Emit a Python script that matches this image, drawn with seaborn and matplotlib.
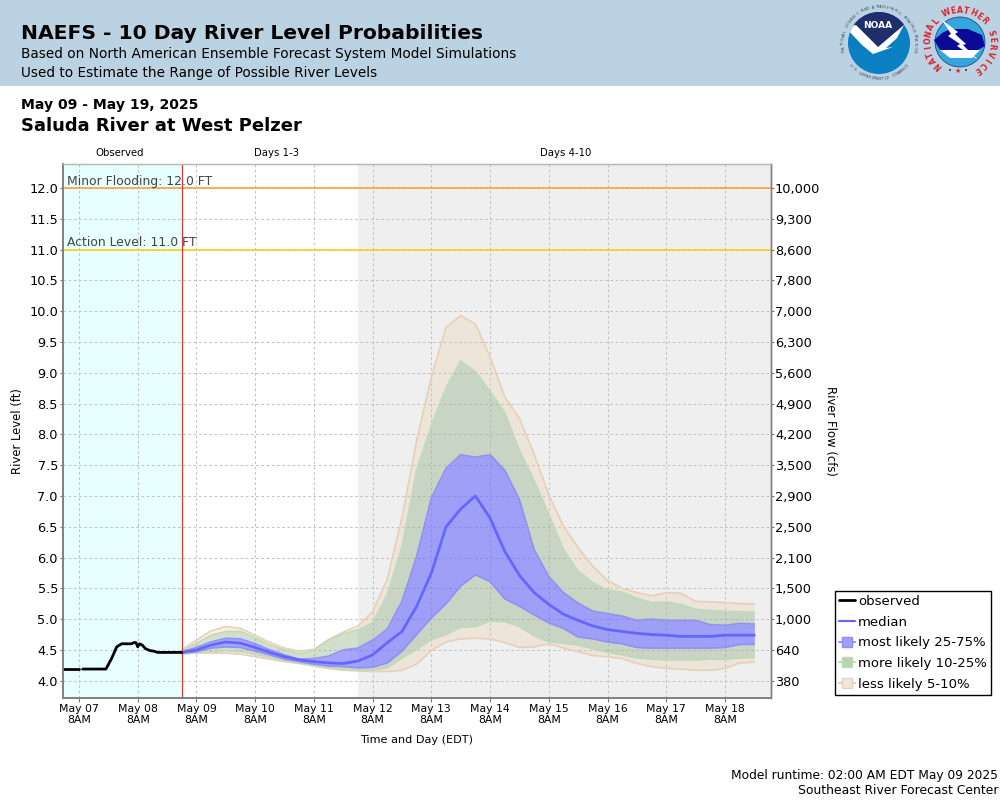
import matplotlib
matplotlib.use("Agg")
import matplotlib.pyplot as plt
from matplotlib.lines import Line2D
from matplotlib.patches import Circle, Rectangle, Polygon
import numpy as np
import pandas as pd
import seaborn as sns

# hours after May 07 8AM, split where the gauge record has a gap
obs_hours_a = [-6, -3, 0]
obs_level_a = [4.19, 4.19, 4.19]
obs_hours_b = [1.5, 5, 8, 11, 13.3, 15.4, 17.4, 21.5, 22.4, 23.3, 24, 24.7, 25.8, 27.2, 29, 30.6, 32.1, 36, 42]
obs_level_b = [4.19, 4.19, 4.19, 4.19, 4.36, 4.55, 4.60, 4.60, 4.62, 4.62, 4.55, 4.60, 4.58, 4.52, 4.49, 4.48, 4.46, 4.46, 4.46]

median = [4.46, 4.50, 4.58, 4.63, 4.61, 4.54, 4.46, 4.39, 4.34, 4.31, 4.29, 4.28, 4.32, 4.42, 4.62, 4.80, 5.21, 5.75, 6.50, 6.79,
          7.00, 6.64, 6.10, 5.71, 5.43, 5.24, 5.08, 4.98, 4.89, 4.83, 4.80, 4.77, 4.75, 4.74, 4.72, 4.72, 4.72, 4.74, 4.74, 4.74]
p75 = [4.47, 4.54, 4.63, 4.69, 4.68, 4.60, 4.50, 4.42, 4.35, 4.36, 4.40, 4.50, 4.53, 4.66, 4.84, 5.29, 6.02, 6.97, 7.45, 7.67,
       7.63, 7.67, 7.42, 6.94, 6.13, 5.69, 5.43, 5.26, 5.13, 5.09, 5.05, 4.98, 5.00, 4.98, 4.98, 4.98, 4.91, 4.90, 4.93, 4.92]
p25 = [4.45, 4.47, 4.53, 4.55, 4.54, 4.48, 4.42, 4.35, 4.31, 4.27, 4.24, 4.23, 4.21, 4.22, 4.29, 4.48, 4.75, 5.02, 5.25, 5.54,
       5.72, 5.61, 5.33, 5.21, 5.07, 4.94, 4.85, 4.71, 4.68, 4.63, 4.60, 4.54, 4.53, 4.53, 4.53, 4.53, 4.53, 4.54, 4.59, 4.59]
p90 = [4.48, 4.61, 4.74, 4.80, 4.80, 4.70, 4.58, 4.50, 4.44, 4.49, 4.66, 4.76, 4.83, 4.94, 5.40, 6.18, 7.42, 8.15, 8.76, 9.19,
       9.02, 8.70, 8.35, 7.74, 7.25, 6.70, 6.13, 5.78, 5.59, 5.47, 5.44, 5.34, 5.27, 5.28, 5.24, 5.16, 5.14, 5.13, 5.12, 5.11]
p10 = [4.44, 4.46, 4.47, 4.49, 4.47, 4.43, 4.38, 4.33, 4.29, 4.25, 4.21, 4.19, 4.17, 4.17, 4.21, 4.37, 4.51, 4.67, 4.75, 4.87,
       4.88, 4.97, 4.96, 4.88, 4.73, 4.63, 4.61, 4.58, 4.52, 4.46, 4.42, 4.37, 4.35, 4.34, 4.34, 4.34, 4.35, 4.35, 4.37, 4.38]
p95 = [4.50, 4.66, 4.81, 4.88, 4.85, 4.74, 4.62, 4.53, 4.48, 4.51, 4.67, 4.79, 4.89, 5.12, 5.65, 6.65, 7.90, 8.93, 9.74, 9.93,
       9.79, 9.26, 8.61, 8.26, 7.68, 7.02, 6.51, 6.16, 5.86, 5.63, 5.50, 5.43, 5.38, 5.43, 5.42, 5.29, 5.28, 5.27, 5.25, 5.25]
p05 = [4.43, 4.45, 4.45, 4.45, 4.43, 4.39, 4.35, 4.31, 4.28, 4.24, 4.20, 4.17, 4.16, 4.15, 4.15, 4.17, 4.27, 4.49, 4.63, 4.68,
       4.69, 4.68, 4.62, 4.54, 4.55, 4.60, 4.53, 4.47, 4.41, 4.39, 4.36, 4.28, 4.23, 4.20, 4.19, 4.17, 4.17, 4.20, 4.29, 4.30]

stage_ticks = [4.0, 4.5, 5.0, 5.5, 6.0, 6.5, 7.0, 7.5, 8.0, 8.5, 9.0, 9.5, 10.0, 10.5, 11.0, 11.5, 12.0]
flow_labels = ["380", "640", "1,000", "1,500", "2,100", "2,500", "2,900", "3,500", "4,200", "4,900", "5,600",
               "6,300", "7,000", "7,800", "8,600", "9,300", "10,000"]
day_labels = ["May 07", "May 08", "May 09", "May 10", "May 11", "May 12", "May 13", "May 14", "May 15", "May 16", "May 17", "May 18"]

C_TAN = "#e8c49c"
C_GREEN = "#94b38a"
C_BLUE = "#6a6aff"
C_MEDIAN = "#6666ff"
E_TAN = "#e8d0b8"
E_GREEN = "#c2d9b8"
E_BLUE = "#9090f5"

sns.set_theme(style="white")
plt.rcParams['font.family'] = ['DejaVu Sans']
plt.rcParams['text.color'] = 'black'

t0 = pd.Timestamp("2025-05-07 08:00")
fc_times = pd.date_range("2025-05-09 02:00", periods=len(median), freq="6h")
obs = pd.DataFrame({
    "time": [t0 + pd.Timedelta(hours=h) for h in obs_hours_a + obs_hours_b],
    "level": obs_level_a + obs_level_b,
    "seg": [0] * len(obs_hours_a) + [1] * len(obs_hours_b),
})
fc = pd.DataFrame({"time": fc_times, "median": median})

fig = plt.figure(figsize=(10, 8), dpi=100)
W, H = 1000.0, 800.0


def ftext(x, y, s, **kw):
    kw.setdefault("va", "center")
    return fig.text(x / W, 1 - y / H, s, **kw)


def ring_text(art, cx, cy, r, s, start, span, **kw):
    # letters set along a circle, angle in degrees, running clockwise for positive span
    for i, ch in enumerate(s):
        a = np.radians(start - i * span / (len(s) - 1))
        rot = np.degrees(a) - 90 if span > 0 else np.degrees(a) + 90
        art.text(cx + r * np.cos(a), cy - r * np.sin(a), ch, rotation=rot, ha="center", va="center", **kw)


def draw_logos():
    # header art, drawn in pixel coordinates
    art = fig.add_axes([0, 1 - 86 / H, 1, 86 / H], zorder=3)
    art.set_xlim(0, 1000)
    art.set_ylim(86, 0)
    art.axis("off")

    base = Circle((879, 43), 31, fc="#0a7fc1", ec="none")
    art.add_patch(base)
    dark = Polygon([(845, 5), (911, 5), (903, 26), (878, 52), (855, 26)], fc="#1f2f6b", ec="none")
    art.add_patch(dark)
    dark.set_clip_path(base)
    bird = Polygon([(846, 28), (856, 25), (878, 47), (904, 25), (897, 38), (886, 48), (893, 47), (873, 54), (862, 45)],
                   fc="white", ec="none")
    art.add_patch(bird)
    bird.set_clip_path(base)
    art.text(878, 25, "NOAA", color="white", fontsize=6.5, fontweight="bold", ha="center", va="center")
    ring_text(art, 879, 43, 36, "NATIONAL OCEANIC AND ATMOSPHERIC ADMINISTRATION", 192, 204, fontsize=2.9, color="#444a60")
    ring_text(art, 879, 43, 36, "U.S. DEPARTMENT OF COMMERCE", 218, -104, fontsize=2.9, color="#444a60")

    inner = Circle((960, 42), 25, fc="#35a6dc", ec="#1f2f6b", lw=0.5)
    art.add_patch(inner)
    cloud = Polygon([(934, 40), (942, 33), (950, 29), (968, 29), (982, 35), (985, 46), (978, 50), (940, 50)], fc="#0a0a96", ec="none")
    art.add_patch(cloud)
    under = Polygon([(940, 50), (980, 50), (972, 58), (950, 58)], fc="white", ec="none")
    art.add_patch(under)
    bolt = Polygon([(942, 20), (958, 32), (955, 34), (966, 44), (963, 45), (978, 60), (957, 46), (960, 44), (948, 36), (951, 34)],
                   fc="white", ec="none")
    art.add_patch(bolt)
    ring_text(art, 960, 42, 32, "NATIONAL WEATHER SERVICE", 227, 285, fontsize=5.6, fontweight="bold", color="#e0202a")
    art.text(950, 71, "\u2022", fontsize=5, color="#1f2f6b", ha="center", va="center")
    art.text(958, 71, "\u2605", fontsize=5, color="#e0202a", ha="center", va="center")
    art.text(966, 71, "\u2022", fontsize=5, color="#1f2f6b", ha="center", va="center")


def draw_bands(ax):
    bands = [(p95, p90, C_TAN, 0.25), (p10, p05, C_TAN, 0.25),
             (p90, p75, C_GREEN, 0.42), (p25, p10, C_GREEN, 0.42),
             (p75, p25, C_BLUE, 0.6)]
    for hi, lo, c, a in bands:
        ax.fill_between(fc_times, lo, hi, color=c, alpha=a, lw=0, zorder=3)
    for series, c in [(p95, E_TAN), (p05, E_TAN), (p90, E_GREEN), (p10, E_GREEN), (p75, E_BLUE), (p25, E_BLUE)]:
        ax.plot(fc_times, series, color=c, lw=1.2, zorder=4)


fig.patches.append(Rectangle((0, 1 - 86 / H), 1, 86 / H, transform=fig.transFigure, fc="#bbd2e3", ec="none"))

ftext(21, 33.5, "NAEFS - 10 Day River Level Probabilities", fontsize=14.6, fontweight="bold")
ftext(21, 54, "Based on North American Ensemble Forecast System Model Simulations", fontsize=9.83)
ftext(21, 73, "Used to Estimate the Range of Possible River Levels", fontsize=9.83)
ftext(21, 105.5, "May 09 - May 19, 2025", fontsize=10.05, fontweight="bold")
ftext(21, 126, "Saluda River at West Pelzer", fontsize=13, fontweight="bold")
ftext(120, 153, "Observed", fontsize=7.3, ha="center")
ftext(276, 153, "Days 1-3", fontsize=7.3, ha="center")
ftext(566, 153, "Days 4-10", fontsize=7.3, ha="center")

ax = fig.add_axes([63 / W, 1 - 698 / H, (771 - 63) / W, (698 - 164) / H])
xmin, xmax = t0 - pd.Timedelta(hours=6.54), t0 + pd.Timedelta(hours=282.8)
obs_end = fc_times[0]
ax.set_xlim(xmin, xmax)
ax.set_ylim(3.72, 12.39)

ax.axvspan(xmin, obs_end, color="#e8ffff", lw=0, zorder=0)
ax.axvspan(pd.Timestamp("2025-05-12 02:00"), xmax, color="#efefef", lw=0, zorder=0)
ax.grid(True, color="#c2c2c2", ls=(0, (2.5, 2.5)), lw=0.75, zorder=1)
ax.set_axisbelow(True)

ax.axhline(12.0, color="#ff9a30", lw=1.1, zorder=2)
ax.axhline(11.0, color="#ffcc00", lw=1.1, zorder=2)
label_x = t0 - pd.Timedelta(hours=4.9)
ax.text(label_x, 12.11, "Minor Flooding: 12.0 FT", fontsize=8.9, color="#444444", va="center", zorder=6)
ax.text(label_x, 11.11, "Action Level: 11.0 FT", fontsize=8.9, color="#444444", va="center", zorder=6)
ax.axvline(obs_end, color="#d83a3a", lw=0.9, zorder=5)

draw_bands(ax)
sns.lineplot(data=fc, x="time", y="median", color=C_MEDIAN, lw=2.0, ax=ax, zorder=5, estimator=None)
sns.lineplot(data=obs, x="time", y="level", units="seg", estimator=None, color="black", lw=2.0, ax=ax, zorder=6)

ax.set_xlabel("")
ax.set_ylabel("")
ax.set_yticks(stage_ticks)
ax.set_yticklabels([f"{v:.1f}" for v in stage_ticks], fontsize=9.3, color="black")
ax.set_xticks([t0 + pd.Timedelta(days=i) for i in range(len(day_labels))])
ax.set_xticklabels([f"{d}\n8AM" for d in day_labels], fontsize=7.8, color="black", linespacing=1.15)
ax.tick_params(axis="x", length=3, width=0.8, color="#777777", bottom=True, pad=1.2)
ax.tick_params(axis="y", length=2.2, width=0.8, color="#777777", left=True, pad=1.4)

ax2 = ax.twinx()
ax2.set_ylim(ax.get_ylim())
ax2.set_yticks(stage_ticks)
ax2.set_yticklabels(flow_labels, fontsize=9.3, color="black")
ax2.tick_params(axis="y", length=2.2, width=0.8, color="#777777", right=True, pad=0.6)
ax2.grid(False)

for a in (ax, ax2):
    for side, col, lw in [("left", "#808080", 1.2), ("bottom", "#808080", 1.2), ("top", "#b8b8b8", 0.9), ("right", "#808080", 1.0)]:
        a.spines[side].set_color(col)
        a.spines[side].set_linewidth(lw)
        a.spines[side].set_visible(True)

ftext(18, 431, "River Level (ft)", fontsize=8.4, rotation=90, ha="center")
ftext(831, 431, "River Flow (cfs)", fontsize=8.4, rotation=270, ha="center")
ftext(417, 740, "Time and Day (EDT)", fontsize=8.1, ha="center")
ftext(998, 775, "Model runtime: 02:00 AM EDT May 09 2025", fontsize=8.82, ha="right")
ftext(998, 791, "Southeast River Forecast Center", fontsize=8.95, ha="right")

handles = [
    Line2D([], [], color="black", lw=2),
    Line2D([], [], color=C_MEDIAN, lw=1.6),
    Line2D([], [], color=E_BLUE, lw=1.5, marker="s", ms=6.5, mfc="#9f9fff", mec=E_BLUE),
    Line2D([], [], color=E_GREEN, lw=1.5, marker="s", ms=6.5, mfc="#b8d2b4", mec=E_GREEN),
    Line2D([], [], color=E_TAN, lw=1.5, marker="s", ms=6.5, mfc="#f0e8df", mec=E_TAN),
]
labels = ["observed", "median", "most likely 25-75%", "more likely 10-25%", "less likely 5-10%"]
leg = fig.legend(handles, labels, loc="upper left", bbox_to_anchor=(835 / W, 1 - 591 / H), fontsize=9.5, frameon=True,
                 fancybox=False, edgecolor="black", facecolor="white", framealpha=1, handlelength=1.2, handletextpad=0.25,
                 labelspacing=0.58, borderpad=0.3, borderaxespad=0)
leg.get_frame().set_linewidth(1.0)

draw_logos()
fig.savefig("out.png", dpi=100)
